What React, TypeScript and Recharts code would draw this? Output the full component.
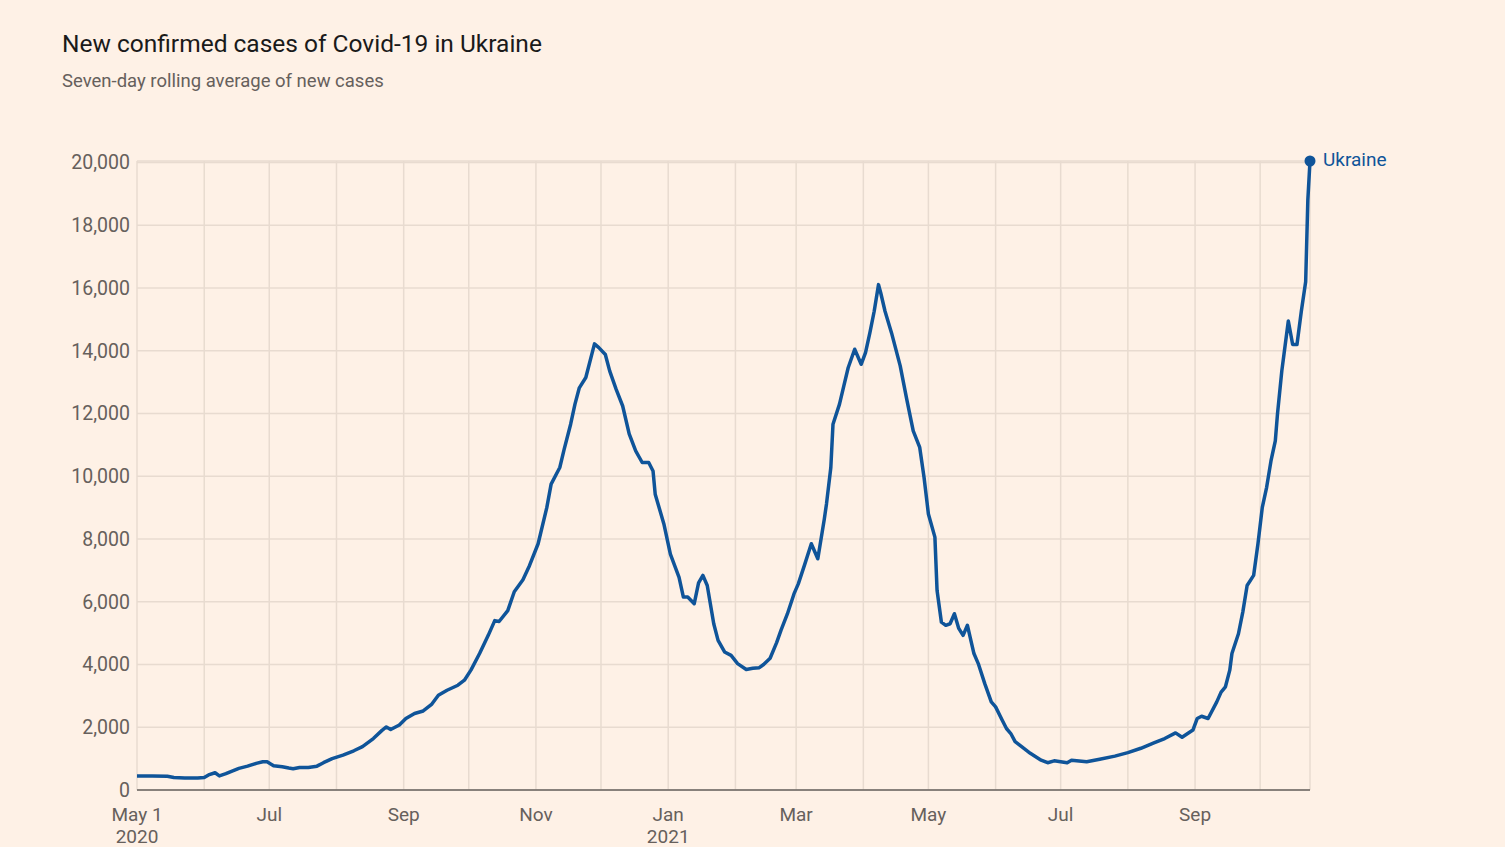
import { CartesianGrid, Line, LineChart, XAxis, YAxis } from "recharts";

// days since 1 May 2020
const days = [
  0, 7, 14, 17, 22, 28, 31, 33, 36, 38, 41, 43, 47, 51, 55, 58, 60, 63, 67, 70,
  72, 75, 79, 83, 86, 90, 95, 100, 104, 109, 113, 115, 117, 121, 124, 128, 132,
  136, 139, 143, 148, 151, 154, 158, 162, 165, 167, 171, 174, 178, 181, 185,
  189, 191, 195, 197, 200, 202, 204, 207, 211, 213, 216, 218, 221, 224, 227,
  230, 233, 236, 238, 239, 243, 246, 250, 252, 254, 257, 259, 261, 263, 266,
  268, 271, 274, 277, 281, 284, 287, 289, 292, 295, 297, 300, 303, 305, 308,
  311, 314, 317, 318, 320, 321, 324, 326, 328, 331, 334, 336, 338, 340, 342,
  343, 345, 348, 352, 355, 358, 361, 363, 365, 368, 369, 371, 373, 375, 377,
  379, 381, 383, 386, 388, 391, 394, 396, 399, 401, 403, 405, 408, 412, 417,
  420, 423, 429, 431, 438, 444, 451, 457, 463, 469, 474, 479, 482, 487, 489,
  491, 494, 498, 500, 502, 504, 505, 508, 510, 512, 515, 517, 519, 521, 523,
  525, 526, 528, 529, 531, 533, 535, 537, 539, 540, 541,
];

const cases = [
  450, 450, 440, 400, 380, 380, 400, 480, 550, 450, 520, 580, 690, 760, 850,
  900, 900, 770, 740, 700, 680, 720, 720, 760, 870, 1000, 1110, 1250, 1380,
  1640, 1900, 2010, 1930, 2070, 2280, 2440, 2520, 2740, 3020, 3180, 3340, 3500,
  3820, 4350, 4930, 5400, 5370, 5720, 6320, 6700, 7150, 7850, 9000, 9750,
  10280, 10860, 11660, 12300, 12820, 13150, 14220, 14100, 13880, 13360, 12770,
  12240, 11350, 10810, 10440, 10440, 10170, 9430, 8480, 7520, 6780, 6150, 6150,
  5940, 6600, 6840, 6520, 5300, 4770, 4400, 4290, 4030, 3840, 3880, 3900, 4000,
  4200, 4700, 5090, 5620, 6250, 6570, 7200, 7850, 7370, 8640, 9120, 10280,
  11660, 12300, 12880, 13460, 14050, 13570, 13940, 14570, 15260, 16110, 15850,
  15260, 14570, 13520, 12460, 11450, 10920, 9960, 8800, 8060, 6360, 5350, 5250,
  5300, 5620, 5150, 4930, 5250, 4350, 4030, 3390, 2810, 2650, 2230, 1960, 1800,
  1540, 1380, 1170, 950, 870, 930, 870, 950, 900, 980, 1080, 1190, 1330, 1500,
  1640, 1820, 1680, 1910, 2280, 2350, 2280, 2810, 3120, 3290, 3820, 4350, 4980,
  5670, 6520, 6840, 7850, 9010, 9650, 10490, 11130, 11980, 13360, 13890, 14950,
  14200, 14200, 15260, 16200, 18800, 20050,
];

// month starts, days since 1 May 2020
const monthTicks = [
  0, 31, 61, 92, 123, 153, 184, 214, 245, 276, 304, 335, 365, 396, 426, 457,
  488, 518,
];
const monthLabels = [
  ["May 1", "2020"], [], ["Jul"], [], ["Sep"], [], ["Nov"], [], ["Jan", "2021"],
  [], ["Mar"], [], ["May"], [], ["Jul"], [], ["Sep"], [],
];

const yTicks = [0, 2000, 4000, 6000, 8000, 10000, 12000, 14000, 16000, 18000, 20000];

const data = days.map((day, i) => ({ day, cases: cases[i] }));

const BG = "#fef1e6";
const BLUE = "#0f5499";
const GREY = "#66605c";
const GRID = "#e8dbd0";
const FONT = "Roboto, 'Noto Sans', sans-serif";

function MonthTick(props: any) {
  const { x, y, payload } = props;
  const idx = monthTicks.indexOf(payload.value);
  const lines = monthLabels[idx] || [];
  return (
    <g>
      {lines.map((t: string, i: number) => (
        <text
          key={i}
          x={x}
          y={y + 31 + i * 22}
          textAnchor="middle"
          fill={GREY}
          fontSize={19}
          fontFamily={FONT}
        >
          {t}
        </text>
      ))}
    </g>
  );
}

function EndDot(props: any) {
  const { cx, cy, index } = props;
  if (index !== data.length - 1) return <g key={index} />;
  return (
    <g key={index}>
      <circle cx={cx} cy={cy} r={5.5} fill={BLUE} />
      <text x={cx + 13} y={cy + 5} fill={BLUE} fontSize={19} fontFamily={FONT}>
        Ukraine
      </text>
    </g>
  );
}

export default function App() {
  return (
    <div
      style={{
        position: "absolute",
        left: 0,
        top: 0,
        width: 1505,
        height: 847,
        background: BG,
        fontFamily: FONT,
      }}
    >
      <svg
        width={1505}
        height={120}
        style={{ position: "absolute", left: 0, top: 0, pointerEvents: "none" }}
      >
        <text x={62} y={51.5} fontSize={24.5} fill="#1a1a1a" fontFamily={FONT}>
          New confirmed cases of Covid-19 in Ukraine
        </text>
        <text x={62} y={87} fontSize={18.5} fill={GREY} fontFamily={FONT}>
          Seven-day rolling average of new cases
        </text>
      </svg>
      <LineChart
        width={1505}
        height={847}
        data={data}
        margin={{ top: 161, right: 195, bottom: 0, left: 0 }}
      >
        <CartesianGrid stroke={GRID} strokeWidth={1.5} />
        <XAxis
          dataKey="day"
          type="number"
          domain={[0, 541]}
          ticks={monthTicks}
          interval={0}
          height={57}
          tickSize={0}
          tickMargin={0}
          tick={<MonthTick />}
          axisLine={{ stroke: GREY, strokeWidth: 1.5 }}
          tickLine={false}
        />
        <YAxis
          domain={[0, 20000]}
          ticks={yTicks}
          width={137}
          tickSize={0}
          tickMargin={7}
          axisLine={false}
          tickLine={false}
          tickFormatter={(v: number) => v.toLocaleString("en-US")}
          tick={{ fill: GREY, fontSize: 19.5, fontFamily: FONT }}
        />
        <Line
          type="linear"
          dataKey="cases"
          stroke={BLUE}
          strokeWidth={3.5}
          strokeLinejoin="round"
          dot={EndDot}
          activeDot={false}
          isAnimationActive={false}
        />
      </LineChart>
    </div>
  );
}
